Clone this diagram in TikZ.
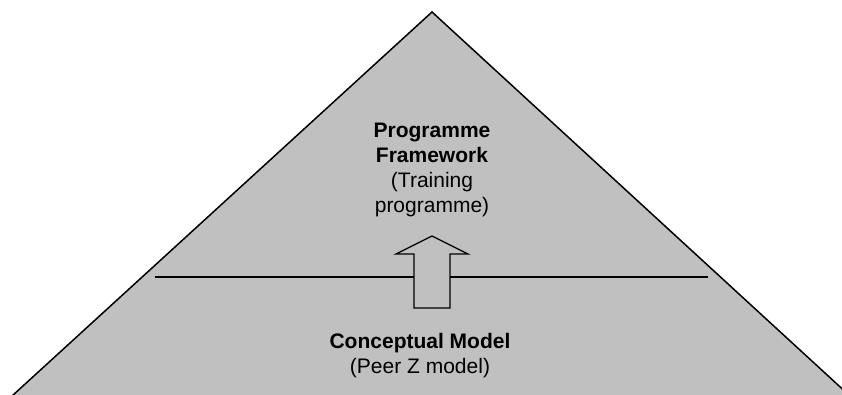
\documentclass[tikz,border=0pt]{standalone}
\usepackage{fontspec}
\setmainfont{Liberation Sans}
\definecolor{pyrgray}{RGB}{192,192,192}
\begin{document}
\begin{tikzpicture}[x=1pt,y=-1pt,
  lbl/.style={align=center,font=\fontsize{21}{25}\selectfont,inner sep=0pt}]
\useasboundingbox (0,0) rectangle (842,395);
\begin{scope}
\clip (0,0) rectangle (842,395);
\coordinate (apex) at (432,12);
\coordinate (bl) at (12,396);
\coordinate (br) at (850,396);
\draw[fill=pyrgray,line width=1.5pt] (bl) -- (apex) -- (br);
\end{scope}
\coordinate (ls) at (155,277);
\coordinate (le) at (708,277);
\draw[line width=2pt] (ls) -- (le);
\draw[fill=pyrgray,line width=1.2pt] (432,236) -- (468,254) -- (450,254) -- (450,308) -- (414,308) -- (414,254) -- (396,254) -- cycle;
\node[lbl] (top) at (432,170) {\textbf{Programme}\\\textbf{Framework}\\(Training\\programme)};
\node[lbl] (bot) at (420,356) {\textbf{Conceptual Model}\\(Peer Z model)};
\end{tikzpicture}
\end{document}
